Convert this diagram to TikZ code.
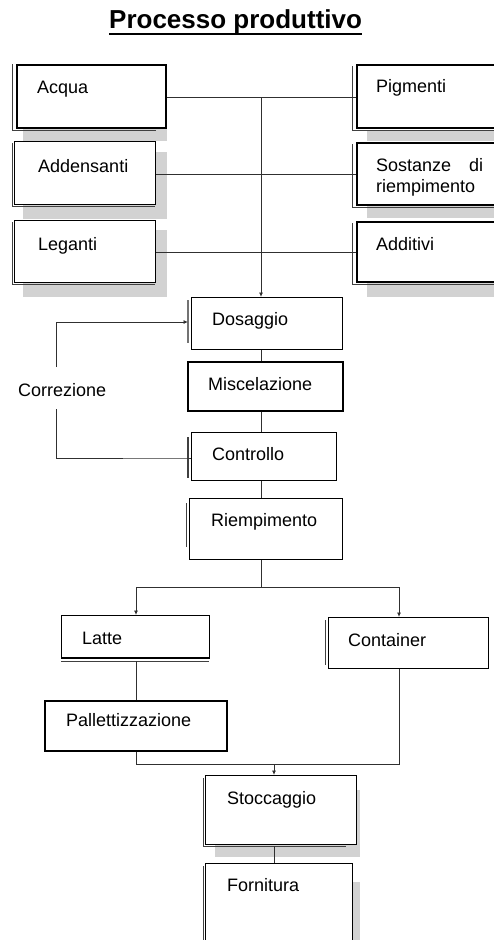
\documentclass[tikz,border=0pt]{standalone}
\usepackage{fontspec}
\setmainfont{Liberation Sans}
\usetikzlibrary{arrows.meta,calc}
\definecolor{shadowc}{HTML}{D2D2D2}
\definecolor{linec}{HTML}{303030}
\tikzset{
  boxn/.style={draw=black, fill=white, line width=1.1pt, inner sep=0pt, anchor=north west},
  thickbox/.style={boxn, line width=1.7pt},
  thinbox/.style={boxn, line width=0.8pt},
  txt/.style={anchor=base west, inner sep=0pt, font=\fontsize{18}{21}\selectfont},
  conn/.style={draw=linec, line width=0.8pt},
  arr/.style={conn, -{Latex[length=4.5pt,width=4pt]}},
  frame/.style={draw=black!75, line width=0.9pt},
  shadowbox/.style={fill=shadowc}
}
\begin{document}
\begin{tikzpicture}[x=1pt,y=-1pt]
\useasboundingbox (0,0) rectangle (494,940);
\clip (0,0) rectangle (494,940);

% title
\node[anchor=base west, inner sep=0pt, font=\fontsize{26}{30}\selectfont\bfseries] (title) at (109,28) {Processo produttivo};
\draw[line width=2pt] (title.base west |- 0,34) -- (title.base east |- 0,34);

% shadows
\fill[shadowc] (23,76) rectangle (167,141);
\fill[shadowc] (23,152) rectangle (167,219);
\fill[shadowc] (23,230) rectangle (167,297);
\fill[shadowc] (367,130) rectangle (505,141);
\fill[shadowc] (367,206) rectangle (505,218);
\fill[shadowc] (367,283) rectangle (505,297);
\fill[shadowc] (215,790) rectangle (360,857);
\fill[shadowc] (215,882) rectangle (360,950);

% frames (offset edges)
\draw[frame] (12,64) |- (156,130);
\draw[frame] (12,143) |- (155,206);
\draw[frame] (12,222) |- (155,284);
\draw[frame] (352,66) |- (505,130);
\draw[frame] (352,144) |- (505,207);
\draw[frame] (352,223) |- (505,284);
\draw[frame, draw=black!55, line width=1.3pt] (188,300) -- (188,343);
\draw[frame, line width=1.3pt] (188,437) -- (188,478);
\draw[frame] (186.5,503) -- (186.5,547);
\draw[frame] (61,661) -- (209,661);
\draw[frame] (325,620) -- (325,665);
\draw[frame] (203,778) |- (346,846);
\draw[frame] (203,866) -- (203,950);

% boxes
\node[thickbox, minimum width=149pt, minimum height=63pt] (acqua) at (16,64) {};
\node[thinbox, minimum width=141pt, minimum height=63pt] (addensanti) at (14,141) {};
\node[thinbox, minimum width=141pt, minimum height=62pt] (leganti) at (14,220) {};
\node[thickbox, minimum width=150pt, minimum height=63pt] (pigmenti) at (356,64) {};
\node[thickbox, minimum width=150pt, minimum height=62pt] (sostanze) at (356,142) {};
\node[thickbox, minimum width=150pt, minimum height=60pt] (additivi) at (356,221) {};
\node[thinbox, minimum width=151pt, minimum height=52pt] (dosaggio) at (191,297) {};
\node[thickbox, minimum width=155pt, minimum height=49pt] (miscelazione) at (187,361) {};
\node[boxn, line width=1.4pt, minimum width=145pt, minimum height=48pt] (controllo) at (191,432) {};
\node[boxn, minimum width=153pt, minimum height=61pt] (riempimento) at (189,498) {};
\node[boxn, minimum width=148pt, minimum height=42pt] (latte) at (61,615) {};
\draw[line width=2pt] (latte.south west) -- (latte.south east);
\node[boxn, minimum width=160pt, minimum height=51pt] (container) at (328,617) {};
\node[thickbox, minimum width=182pt, minimum height=50pt] (pallet) at (44,700) {};
\node[boxn, line width=1.3pt, minimum width=151pt, minimum height=69pt] (stoccaggio) at (205,775) {};
\node[boxn, line width=1.3pt, minimum width=147pt, minimum height=90pt] (fornitura) at (205,863) {};

% texts
\node[txt] (tacqua) at (37,93.3) {Acqua};
\node[txt] (taddens) at (38,172.7) {Addensanti};
\node[txt] (tleganti) at (38,250) {Leganti};
\node[txt] (tpigmenti) at (376,92.7) {Pigmenti};
\node[txt] (tsost1) at (376,171.7) {\makebox[107pt][s]{Sostanze\hfill di}};
\node[txt] (tsost2) at (376,192.7) {riempimento};
\node[txt] (tadditivi) at (376,250) {Additivi};
\node[txt] (tdosaggio) at (212,325) {Dosaggio};
\node[txt] (tmiscel) at (208,390) {Miscelazione};
\node[txt] (tcorr) at (18,396) {Correzione};
\node[txt] (tcontrollo) at (212,460) {Controllo};
\node[txt] (triemp) at (211,526) {Riempimento};
\node[txt] (tlatte) at (82,644) {Latte};
\node[txt] (tcontainer) at (348,646) {Container};
\node[txt] (tpallet) at (66,726.7) {Pallettizzazione};
\node[txt] (tstocc) at (227,804) {Stoccaggio};
\node[txt] (tforn) at (227,891) {Fornitura};

% connectors: inputs
\coordinate (j1) at (261,97);
\draw[conn] (acqua.east |- j1) -- (pigmenti.west |- j1);
\draw[conn] (addensanti.east |- 0,174) -- (sostanze.west |- 0,174);
\draw[conn] (leganti.east |- 0,252) -- (additivi.west |- 0,252);
\draw[arr] (j1) -- (j1 |- dosaggio.north);

% main chain
\draw[conn] (dosaggio.south -| j1) -- (miscelazione.north -| j1);
\draw[conn] (miscelazione.south -| j1) -- (controllo.north -| j1);
\draw[conn] (controllo.south -| j1) -- (riempimento.north -| j1);

% correction loop
\coordinate (c1) at (56,409);
\coordinate (c2) at (56,367);
\coordinate (c3) at (188,322);
\draw[conn] (controllo.west |- 0,458) -- (188,458) -| (c1);
\draw[arr] (c2) |- (c3);

% split
\coordinate (s0) at (261,587);
\coordinate (sl) at (136,587);
\coordinate (sr) at (399,587);
\draw[conn] (riempimento.south -| s0) -- (s0);
\draw[conn] (sl) -- (sr);
\draw[arr] (sl) -- (sl |- latte.north);
\draw[arr] (sr) -- (sr |- container.north);

% lower part
\draw[conn] (136,661) -- (pallet.north -| sl);
\coordinate (m0) at (274,764);
\draw[conn] (pallet.south -| sl) |- (m0);
\draw[conn] (container.south -| sr) |- (m0);
\draw[arr] (m0) -- (m0 |- stoccaggio.north);
\draw[conn] (274,846) -- (fornitura.north -| m0);
\end{tikzpicture}
\end{document}
